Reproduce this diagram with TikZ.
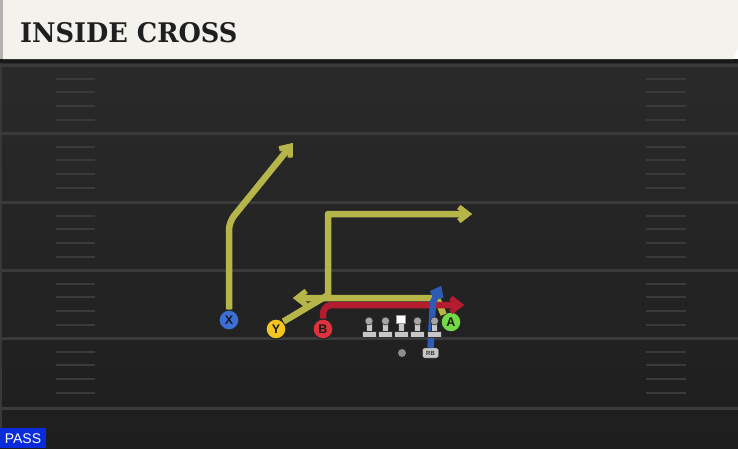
\documentclass[tikz,border=0pt]{standalone}
\usepackage{fontspec}
\setmainfont{DejaVu Serif}
\newfontfamily\labelfont{Liberation Sans}
\usetikzlibrary{arrows.meta,positioning}

\definecolor{fieldtop}{HTML}{2A2A2A}
\definecolor{fieldbot}{HTML}{1E1E1E}
\definecolor{yardline}{HTML}{3A3A3A}
\definecolor{banner}{HTML}{F4F2EC}
\definecolor{routey}{HTML}{B5B549}
\definecolor{router}{HTML}{B51C30}
\definecolor{routeb}{HTML}{2D5BB5}
\definecolor{xblue}{HTML}{3C70D8}
\definecolor{yyellow}{HTML}{F2C522}
\definecolor{bred}{HTML}{E0323C}
\definecolor{agreen}{HTML}{72DA48}
\definecolor{passblue}{HTML}{0A2BD9}

% #1 looks, #2 tip style, #3 path
\newcommand{\playroute}[3]{%
  \draw[rim,#1,#2 rim] #3;
  \draw[route,#1,#2] #3;
}

\begin{document}
\begin{tikzpicture}[x=1pt,y=-1pt,
  player/.style={circle,draw=black!85,line width=1.2pt,minimum size=20pt,inner sep=0pt,
    font=\labelfont\bfseries\fontsize{12.5}{12.5}\selectfont,text=black!90},
  route/.style={line width=4.5pt,line join=round},
  rim/.style={line width=6.5pt,line join=round,draw=black!90},
  tip/.style={-{Straight Barb[length=9pt,width=14pt,line width=3.2pt]}},
  tip rim/.style={-{Straight Barb[length=9pt,width=14pt,line width=5.2pt]}},
  small/.style={-{Straight Barb[length=7pt,width=11pt,line width=3.2pt]}},
  small rim/.style={-{Straight Barb[length=7pt,width=11pt,line width=5.2pt]}},
  lineman/.style={fill=black!22,draw=black!80,line width=0.6pt},
  hash/.style={draw=yardline,line width=2pt},
]
\useasboundingbox (0,0) rectangle (738,448);

% field
\shade[top color=fieldtop,bottom color=fieldbot] (0,59) rectangle (738,448);
\fill[black!90] (0,59) rectangle (738,63);
\fill[black!78] (0,63) rectangle (2,448);

% yard lines and hash marks
\foreach \yy in {65,133,202,270,338,408} {
  \draw[yardline,line width=3pt] (0,\yy) -- (738,\yy);
}
\foreach \yy in {65,133,202,270,338} {
  \foreach \dy in {14,27,41,55} {
    \draw[hash] (56,\yy+\dy) -- (95,\yy+\dy);
    \draw[hash] (646,\yy+\dy) -- (686,\yy+\dy);
  }
}

% title banner
\fill[black!30] (0,0) rectangle (3,59);
\fill[banner] (3,0) -- (738,0) -- (738,47) -- (733,59) -- (3,59) -- cycle;
\node[anchor=west,inner sep=0pt,text=black!88] (title) at (20,32.5)
  {\scalebox{0.95}[1]{\fontsize{27}{27}\selectfont\bfseries INSIDE CROSS}};

% players
\node[player,fill=xblue] (X) at (229,320) {X};
\node[player,fill=yyellow] (Y) at (276,329) {Y};
\node[player,fill=bred] (B) at (323,329) {B};
\node[player,fill=agreen] (A) at (451,322) {A};
\node[circle,fill=black!45,minimum size=8pt,inner sep=0pt] (QB) at (402,353) {};
\node[draw=black!80,fill=black!22,rounded corners=2pt,minimum width=16pt,minimum height=10pt,
  inner sep=0pt,font=\labelfont\bfseries\fontsize{6}{6}\selectfont,text=black!80] (RB) at (430.5,353) {RB};

% route ends
\coordinate (xcut) at (229,222);
\coordinate (xend) at (293,143);
\coordinate (ybreak) at (328,295);
\coordinate (ycorner) at (328,214);
\coordinate (yend) at (472,214);
\coordinate (abreak) at (437,298);
\coordinate (aend) at (293,298);
\coordinate (bturn) at (323,305);
\coordinate (bend) at (464,305);
\coordinate (rbturn) at (433,302);
\coordinate (rbend) at (441,286);

% routes
\playroute{routey,rounded corners=8pt}{tip}{(X.north) -- (xcut) -- (xend)}
\playroute{routey}{tip}{(Y.north east) -- (ybreak) -- (ycorner) -- (yend)}
\playroute{routey}{tip}{(A.north west) -- (abreak) -- (aend)}
\playroute{router,rounded corners=9pt}{tip}{(B.north) -- (bturn) -- (bend)}
\playroute{routeb}{small}{(RB.north) -- (rbturn) -- (rbend)}

% offensive line
\foreach \lx [count=\i] in {369,385.5,417.5,434.5} {
  \coordinate (ol\i) at (\lx,321);
  \fill[lineman] (\lx-3,323) rectangle (\lx+3,332);
  \fill[lineman] (\lx-7,331) rectangle (\lx+7,337);
  \fill[fill=black!35,draw=black!80,line width=0.6pt] (ol\i) circle (4);
}
\coordinate (center) at (401,319);
\fill[lineman] (398,322) rectangle (404,332);
\fill[lineman] (394,331) rectangle (408,337);
\fill[white,draw=black!40,line width=0.8pt] (396.5,315) rectangle (405.5,323);

% play type
\fill[passblue] (0,428) rectangle (46,448);
\node[inner sep=0pt,text=white,font=\labelfont\fontsize{14}{14}\selectfont] (pass) at (23,439) {PASS};
\end{tikzpicture}
\end{document}
